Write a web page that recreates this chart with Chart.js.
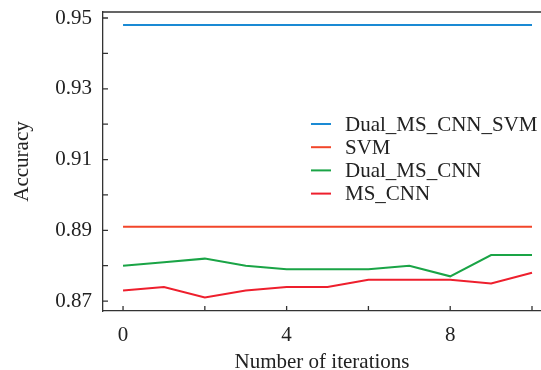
<!DOCTYPE html>
<html>
<head>
<meta charset="UTF-8">
<script src="https://cdn.jsdelivr.net/npm/chart.js"></script>
<style>
  html, body { margin: 0; padding: 0; background: #fff; }
  #wrap { width: 541px; height: 370px; }
</style>
</head>
<body>
<div id="wrap"><canvas id="accChart" width="541" height="370"></canvas></div>
<script>
// Data
const iterations = [0, 1, 2, 3, 4, 5, 6, 7, 8, 9, 10];
const dualMsCnnSvm = [0.948, 0.948, 0.948, 0.948, 0.948, 0.948, 0.948, 0.948, 0.948, 0.948, 0.948];
const svm = [0.891, 0.891, 0.891, 0.891, 0.891, 0.891, 0.891, 0.891, 0.891, 0.891, 0.891];
const dualMsCnn = [0.880, 0.881, 0.882, 0.880, 0.879, 0.879, 0.879, 0.880, 0.877, 0.883, 0.883];
const msCnn = [0.873, 0.874, 0.871, 0.873, 0.874, 0.874, 0.876, 0.876, 0.876, 0.875, 0.878];

// Tick marks
const xMajorTicks = [0, 4, 8];
const xMinorTicks = [2, 6, 10];
const yMajorTicks = [0.87, 0.89, 0.91, 0.93, 0.95];
const yMinorTicks = [0.88, 0.90, 0.92, 0.94];

const FONT = '"Liberation Serif", "DejaVu Serif", serif';
const AXIS_COLOR = '#333';

function series(label, values, color) {
  return {
    label: label,
    data: iterations.map((x, i) => ({ x: x, y: values[i] })),
    borderColor: color,
    backgroundColor: color,
    borderWidth: 2,
    pointRadius: 0,
    tension: 0
  };
}

// Draws the inward tick marks, the top frame line and the inset legend
const framePlugin = {
  id: 'frame',
  afterDraw(chart) {
    const ctx = chart.ctx;
    const area = chart.chartArea;
    const xs = chart.scales.x;
    const ys = chart.scales.y;
    ctx.save();
    ctx.strokeStyle = AXIS_COLOR;
    ctx.lineWidth = 1.3;
    ctx.beginPath();
    ctx.moveTo(area.left, area.top);
    ctx.lineTo(area.right, area.top);
    xs.ticks.forEach(t => {
      const px = xs.getPixelForValue(t.value);
      ctx.moveTo(px, area.bottom);
      ctx.lineTo(px, area.bottom - 5);
    });
    ys.ticks.forEach(t => {
      const py = ys.getPixelForValue(t.value);
      ctx.moveTo(area.left, py);
      ctx.lineTo(area.left + 5, py);
    });
    ctx.stroke();

    // legend
    ctx.font = '21px ' + FONT;
    ctx.textBaseline = 'middle';
    ctx.fillStyle = '#222';
    chart.data.datasets.forEach((ds, i) => {
      const y = 124 + i * 23.2;
      ctx.strokeStyle = ds.borderColor;
      ctx.lineWidth = 2;
      ctx.beginPath();
      ctx.moveTo(311, y);
      ctx.lineTo(331, y);
      ctx.stroke();
      ctx.fillText(ds.label, 345, y + 1);
    });
    ctx.restore();
  }
};

new Chart(document.getElementById('accChart'), {
  type: 'line',
  data: {
    datasets: [
      series('Dual_MS_CNN_SVM', dualMsCnnSvm, '#1a8ad4'),
      series('SVM', svm, '#f2462a'),
      series('Dual_MS_CNN', dualMsCnn, '#1aa446'),
      series('MS_CNN', msCnn, '#ee1f2d')
    ]
  },
  options: {
    responsive: false,
    animation: false,
    layout: { padding: { top: 12, right: 0, left: 0, bottom: 0 } },
    plugins: {
      legend: { display: false },
      tooltip: { enabled: false }
    },
    scales: {
      x: {
        type: 'linear',
        min: -0.49,
        max: 10.22,
        afterBuildTicks: s => {
          s.ticks = xMajorTicks.concat(xMinorTicks).sort((a, b) => a - b).map(v => ({ value: v }));
        },
        afterFit: s => {
          s.height = 59;
          s.paddingLeft = 0;
          s.paddingRight = 0;
        },
        grid: { display: false, drawOnChartArea: false, drawTicks: false },
        border: { display: true, color: AXIS_COLOR, width: 1.3 },
        ticks: {
          padding: 12,
          color: '#222',
          font: { family: FONT, size: 21 },
          maxRotation: 0,
          autoSkip: false,
          callback: v => xMajorTicks.includes(v) ? String(v) : ''
        },
        title: {
          display: true,
          text: 'Number of iterations',
          color: '#222',
          font: { family: FONT, size: 21, lineHeight: 1 },
          padding: { top: 0, bottom: -3 }
        }
      },
      y: {
        min: 0.8672,
        max: 0.9517,
        afterBuildTicks: s => {
          s.ticks = yMajorTicks.concat(yMinorTicks).sort((a, b) => a - b).map(v => ({ value: v }));
        },
        afterFit: s => {
          s.width = 103;
          s.paddingTop = 0;
          s.paddingBottom = 0;
        },
        grid: { display: false, drawOnChartArea: false, drawTicks: false },
        border: { display: true, color: AXIS_COLOR, width: 1.3 },
        ticks: {
          padding: 11,
          color: '#222',
          font: { family: FONT, size: 21 },
          autoSkip: false,
          callback: v => yMajorTicks.some(m => Math.abs(m - v) < 1e-6) ? v.toFixed(2) : ''
        },
        title: {
          display: true,
          text: 'Accuracy',
          color: '#222',
          font: { family: FONT, size: 21, lineHeight: 1 },
          padding: { top: 12, bottom: 0 }
        }
      }
    }
  },
  plugins: [framePlugin]
});
</script>
</body>
</html>
